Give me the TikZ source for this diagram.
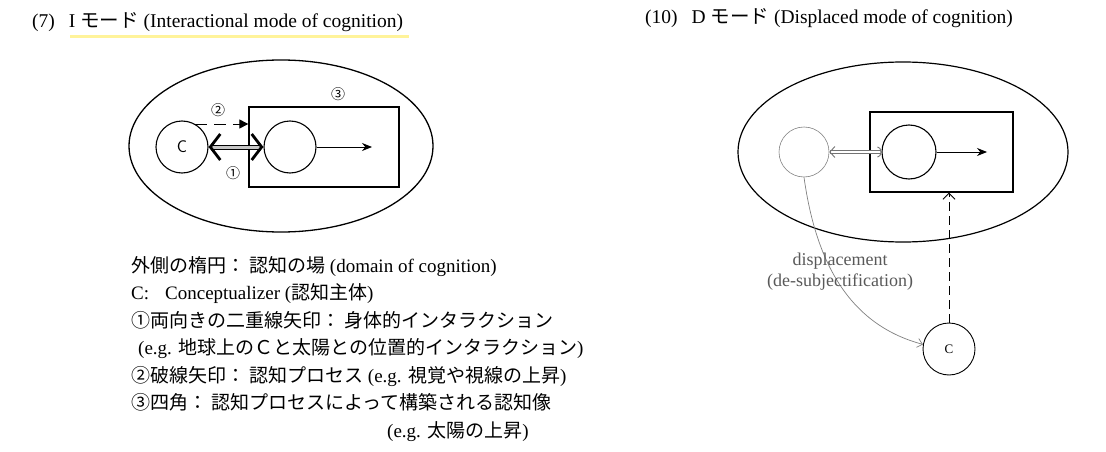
\documentclass[tikz,border=0pt]{standalone}
\usepackage{fontspec}
\setmainfont{Liberation Serif}
\newfontfamily\jp{Noto Sans CJK JP}
\usepackage{tikz}
\usetikzlibrary{arrows.meta,calc}

\begin{document}
\begin{tikzpicture}[x=1pt,y=-1pt,
    circ/.style={circle,draw,line width=1.1pt,minimum size=52pt,inner sep=0pt},
    imgbox/.style={draw,line width=1.3pt,minimum width=150pt,minimum height=80pt,inner sep=0pt},
    legend/.style={anchor=base west,inner sep=0pt,font=\fontsize{19}{21}\selectfont},
    num/.style={inner sep=0pt,font=\jp\fontsize{14}{14}\selectfont}]
    \useasboundingbox (0,0) rectangle (1106,452);

    % (7) I mode
    \node[anchor=base west,inner sep=0pt,font=\fontsize{19.5}{22}\selectfont] (ttlI) at (32,28)
        {(7)\hspace{14pt}I {\jp モード} (Interactional mode of cognition)};
    \draw[yellow!85!orange,opacity=.4,line width=3pt]
        ($(ttlI.south west)+(38,4)$) coordinate (hlA) -- ($(ttlI.south east)+(6,4)$) coordinate (hlB);
    \draw[line width=1.3pt] (281,146) ellipse [x radius=152,y radius=86];
    \node[imgbox] (boxI) at (324,147) {};
    \node[circ,font=\sffamily\fontsize{17}{17}\selectfont] (cI) at (182,147) {C};
    \node[circ] (objI) at (290,147) {};
    \coordinate (tipI) at (372,147);
    \draw[line width=1pt,-{Stealth[length=10pt,width=8pt]}] (objI) -- (tipI);
    \draw[line width=1pt,dash pattern=on 12pt off 7pt,-{Triangle[length=9pt,width=9pt]}]
        (cI.60) -- (boxI.west |- cI.60);
    \draw[line width=1pt,double=gray!45,double distance=3pt,
        {Straight Barb[length=10pt,width=26pt,line width=2.8pt]}-{Straight Barb[length=10pt,width=26pt,line width=2.8pt]}]
        (cI) -- (objI);
    \node[num] (n1) at (233,173) {①};
    \node[num] (n2) at (218,110) {②};
    \node[num] (n3) at (338,94) {③};

    % legend
    \node[legend] (leg1) at (131,272) {{\jp 外側の楕円：}\hspace{4pt}{\jp 認知の場} (domain of cognition)};
    \node[legend] (leg2) at (131,299.5) {C:\hspace{16pt}Conceptualizer ({\jp 認知主体})};
    \node[legend] (leg3) at (131,327) {{\jp ①両向きの二重線矢印：}\hspace{4pt}{\jp 身体的インタラクション}};
    \node[legend] (leg4) at (138,354.5) {(e.g. {\jp 地球上のＣと太陽との位置的インタラクション})};
    \node[legend] (leg5) at (131,382) {{\jp ②破線矢印：}\hspace{4pt}{\jp 認知プロセス} (e.g. {\jp 視覚や視線の上昇})};
    \node[legend] (leg6) at (131,409.5) {{\jp ③四角：}\hspace{4pt}{\jp 認知プロセスによって構築される認知像}};
    \node[legend] (leg7) at (387,437) {(e.g. {\jp 太陽の上昇})};

    % (10) D mode
    \node[anchor=base west,inner sep=0pt,font=\fontsize{19.5}{22}\selectfont] (ttlD) at (645,24)
        {(10)\hspace{14pt}D {\jp モード} (Displaced mode of cognition)};
    \draw[line width=1.2pt] (903,152) ellipse [x radius=165,y radius=90];
    \node[imgbox,minimum width=143pt] (boxD) at (941.5,152) {};
    \node[circ,draw=gray,line width=0.6pt,minimum size=50pt] (selfD) at (804,152) {};
    \node[circ,minimum size=54pt] (objD) at (909,152) {};
    \coordinate (tipD) at (987,152);
    \draw[line width=1pt,-{Stealth[length=10pt,width=8pt]}] (objD) -- (tipD);
    \draw[draw=gray!90!black,line width=0.6pt,double,double distance=2pt,
        {Straight Barb[length=5pt,width=11pt,line width=0.9pt]}-{Arc Barb[length=4pt,width=11pt,line width=0.9pt]}]
        (selfD) -- (objD);
    \node[circ,line width=0.9pt,font=\fontsize{13}{13}\selectfont] (cD) at (949,349) {C};
    \draw[line width=0.9pt,dash pattern=on 9pt off 5pt,-{Straight Barb[length=6pt,width=12pt]}]
        (cD) -- (cD |- boxD.south);
    \draw[gray,line width=0.7pt,-{Straight Barb[length=5pt,width=9pt]}]
        (selfD.south) to[out=-82,in=165] (cD.170);
    \node[align=center,text=black!65,inner sep=0pt,font=\fontsize{18}{21}\selectfont] (disp) at (840,272)
        {displacement\\(de-subjectification)};
\end{tikzpicture}
\end{document}
